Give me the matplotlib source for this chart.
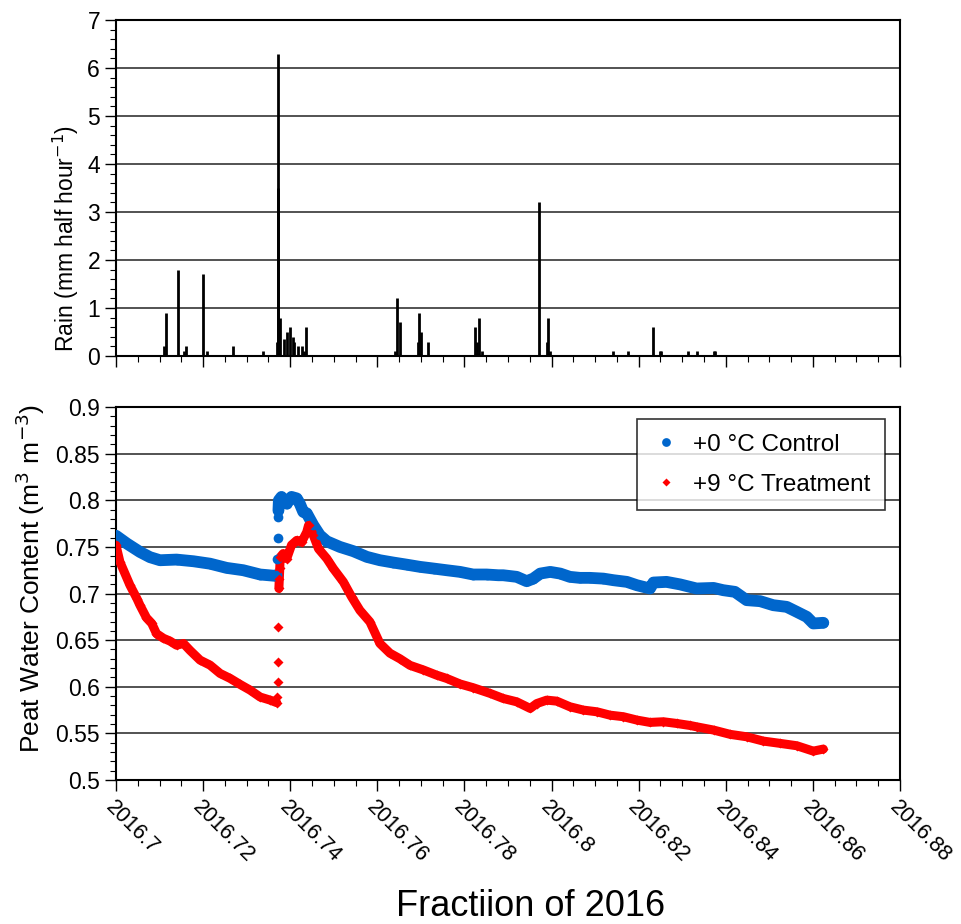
import numpy as np
import matplotlib
matplotlib.use("Agg")
import matplotlib.pyplot as plt
from matplotlib.ticker import MultipleLocator

plt.rcParams['font.family'] = ['Liberation Sans', 'DejaVu Sans']

#----------
# Rain (mm per half hour)
rain_t = [2016.7110, 2016.7114, 2016.7142, 2016.7156, 2016.7161, 2016.7199, 2016.7210,
          2016.7268, 2016.7338, 2016.7369, 2016.7371, 2016.7373, 2016.7377, 2016.7386,
          2016.7392, 2016.7400, 2016.7406, 2016.7409, 2016.7418, 2016.7426, 2016.7432,
          2016.7436, 2016.7641, 2016.7645, 2016.7651, 2016.7693, 2016.7696, 2016.7700,
          2016.7716, 2016.7825, 2016.7829, 2016.7833, 2016.7841, 2016.7971, 2016.7989,
          2016.7992, 2016.7997, 2016.8142, 2016.8176, 2016.8232, 2016.8248, 2016.8251,
          2016.8313, 2016.8333, 2016.8372, 2016.8376]
rain_mm = [0.2, 0.9, 1.8, 0.1, 0.2, 1.7, 0.1,
           0.2, 0.1, 0.3, 3.5, 6.3, 0.8, 0.35,
           0.5, 0.6, 0.4, 0.3, 0.2, 0.2, 0.1,
           0.6, 0.1, 1.2, 0.7, 0.3, 0.9, 0.5,
           0.3, 0.6, 0.3, 0.8, 0.1, 3.2, 0.3,
           0.8, 0.1, 0.1, 0.1, 0.6, 0.1, 0.1,
           0.1, 0.1, 0.1, 0.1]

# +0 C control peat water content
ctrl_t = [2016.7000, 2016.7025, 2016.7055, 2016.7078, 2016.7101, 2016.7139, 2016.7178,
          2016.7216, 2016.7254, 2016.7292, 2016.7331, 2016.7365, 2016.7369, 2016.7370,
          2016.7371, 2016.7372, 2016.7373, 2016.7374, 2016.7380, 2016.7392, 2016.7403,
          2016.7415, 2016.7422, 2016.7430, 2016.7438, 2016.7453, 2016.7468, 2016.7484,
          2016.7514, 2016.7545, 2016.7576, 2016.7606, 2016.7637, 2016.7667, 2016.7698,
          2016.7729, 2016.7759, 2016.7790, 2016.7820, 2016.7851, 2016.7878, 2016.7889,
          2016.7920, 2016.7943, 2016.7958, 2016.7974, 2016.7997, 2016.8020, 2016.8042,
          2016.8065, 2016.8088, 2016.8119, 2016.8142, 2016.8173, 2016.8196, 2016.8226,
          2016.8234, 2016.8264, 2016.8295, 2016.8333, 2016.8372, 2016.8394, 2016.8421,
          2016.8448, 2016.8479, 2016.8509, 2016.8540, 2016.8563, 2016.8586, 2016.8601,
          2016.8624]
ctrl_wc = [0.762, 0.7536, 0.7446, 0.739, 0.7357, 0.7364, 0.7346,
           0.732, 0.7275, 0.725, 0.7204, 0.719, 0.7196, 0.7375,
           0.7596, 0.782, 0.789, 0.800, 0.8036, 0.7964, 0.8036,
           0.802, 0.7964, 0.7875, 0.786, 0.7732, 0.7625, 0.756,
           0.750, 0.7454, 0.7393, 0.7357, 0.7332, 0.731, 0.7286,
           0.7268, 0.725, 0.7232, 0.7204, 0.7204, 0.7196, 0.7196,
           0.7179, 0.7132, 0.716, 0.7214, 0.7232, 0.7214, 0.7179,
           0.7168, 0.7168, 0.716, 0.7143, 0.7125, 0.7089, 0.7054,
           0.7118, 0.7125, 0.7098, 0.7054, 0.706, 0.7036, 0.7018,
           0.6929, 0.6918, 0.6875, 0.6857, 0.6804, 0.675, 0.6679,
           0.6686]

# +9 C treatment peat water content
trt_t = [2016.7000, 2016.7009, 2016.7032, 2016.7048, 2016.7055, 2016.7070, 2016.7082,
         2016.7093, 2016.7109, 2016.7124, 2016.7139, 2016.7155, 2016.7170, 2016.7193,
         2016.7216, 2016.7239, 2016.7262, 2016.7285, 2016.7308, 2016.7331, 2016.7354,
         2016.7369, 2016.7370, 2016.7371, 2016.7372, 2016.7373, 2016.7374, 2016.7375,
         2016.7376, 2016.7377, 2016.7384, 2016.7392, 2016.7403, 2016.7415, 2016.7426,
         2016.7438, 2016.7442, 2016.7453, 2016.7465, 2016.7484, 2016.7499, 2016.7522,
         2016.7541, 2016.7560, 2016.7583, 2016.7606, 2016.7629, 2016.7652, 2016.7675,
         2016.7706, 2016.7736, 2016.7759, 2016.7790, 2016.7820, 2016.7859, 2016.7889,
         2016.7920, 2016.7951, 2016.7966, 2016.7989, 2016.8012, 2016.8042, 2016.8073,
         2016.8104, 2016.8134, 2016.8165, 2016.8196, 2016.8226, 2016.8257, 2016.8287,
         2016.8318, 2016.8333, 2016.8372, 2016.8410, 2016.8448, 2016.8486, 2016.8525,
         2016.8563, 2016.8601, 2016.8624]
trt_wc = [0.7518, 0.734, 0.709, 0.6946, 0.6875, 0.674, 0.668,
          0.657, 0.652, 0.649, 0.6446, 0.6464, 0.639, 0.6286,
          0.6232, 0.6143, 0.609, 0.6025, 0.5964, 0.589, 0.5857,
          0.583, 0.589, 0.605, 0.627, 0.664, 0.7054, 0.716,
          0.727, 0.739, 0.7429, 0.7375, 0.752, 0.757, 0.755,
          0.766, 0.773, 0.7625, 0.748, 0.7375, 0.7268, 0.7125,
          0.6964, 0.682, 0.6696, 0.6464, 0.636, 0.630, 0.623,
          0.618, 0.6125, 0.609, 0.603, 0.599, 0.5929, 0.5875,
          0.5839, 0.5768, 0.582, 0.5857, 0.5846, 0.5786, 0.575,
          0.5732, 0.5696, 0.5679, 0.5643, 0.5618, 0.5625, 0.5607,
          0.5585, 0.5571, 0.5536, 0.549, 0.5464, 0.5418, 0.5393,
          0.5368, 0.531, 0.5332]
#----------

blue = '#0066CC'
red = '#FF0000'

def short(v, p):
    return ('%.2f' % v).rstrip('0').rstrip('.')

fig = plt.figure(figsize=(9.61, 9.24), dpi=100)
ax1 = fig.add_axes([0.1207, 0.6147, 0.8158, 0.3637])
ax2 = fig.add_axes([0.1207, 0.1558, 0.8158, 0.4037])

for ax in (ax1, ax2):
    ax.set_xlim(2016.7, 2016.88)
    ax.xaxis.set_major_locator(MultipleLocator(0.02))
    ax.xaxis.set_minor_locator(MultipleLocator(0.005))
    ax.grid(axis='y', which='major', color='#444444', lw=1.3)
    ax.set_axisbelow(True)
    ax.tick_params(which='major', direction='out', length=8, width=1, labelsize=16.5)
    ax.tick_params(which='minor', direction='out', length=4, width=0.8)
    for s in ax.spines.values():
        s.set_linewidth(1.5)

# rain panel
ax1.vlines(rain_t, 0, rain_mm, color='black', lw=2)
ax1.set_ylim(0, 7)
ax1.yaxis.set_major_locator(MultipleLocator(1))
ax1.yaxis.set_minor_locator(MultipleLocator(0.2))
ax1.tick_params(axis='x', labelbottom=False)
ax1.set_ylabel('Rain (mm half hour$^{-1}$)', fontsize=16.5)
ax1.yaxis.set_label_coords(-0.045, 0.35)

# water content panel
ct = np.array(ctrl_t); cw = np.array(ctrl_wc)
tt = np.array(trt_t); tw = np.array(trt_wc)

# continuous stretches drawn as a thick band, jump points left as dots
for m in (ct <= 2016.7369, ct >= 2016.7373):
    ax2.plot(ct[m], cw[m], color=blue, lw=8.5, solid_capstyle='round', zorder=3)
for m in (tt <= 2016.7369, tt >= 2016.7374):
    ax2.plot(tt[m], tw[m], color=red, lw=6.5, solid_capstyle='round', zorder=3)

ax2.plot(ct, cw, 'o', color=blue, ms=7, mec='none', zorder=3, label='+0 °C Control')
ax2.plot(tt, tw, 'D', color=red, ms=5, mec='none', zorder=4, label='+9 °C Treatment')

ax2.set_ylim(0.5, 0.9)
ax2.yaxis.set_major_locator(MultipleLocator(0.05))
ax2.yaxis.set_minor_locator(MultipleLocator(0.01))
ax2.yaxis.set_major_formatter(plt.FuncFormatter(short))
ax2.xaxis.set_major_formatter(plt.FuncFormatter(short))
ax2.set_ylabel('Peat Water Content (m$^3$ m$^{-3}$)', fontsize=19)
ax2.yaxis.set_label_coords(-0.088, 0.54)
ax2.set_xlabel('Fractiion of 2016', fontsize=26)
ax2.xaxis.set_label_coords(0.529, -0.292)
ax2.tick_params(axis='x', labelsize=15.5, pad=4)
for lab in ax2.get_xticklabels():
    lab.set_rotation(-45)
    lab.set_rotation_mode('anchor')
    lab.set_ha('left')
    lab.set_va('top')

leg = ax2.legend(loc='upper right', bbox_to_anchor=(0.981, 0.968), fontsize=17.5,
                 markerscale=0.9, frameon=True, fancybox=False, borderpad=0.6,
                 labelspacing=0.75, handlelength=1.2, handletextpad=0.5,
                 borderaxespad=0)
leg.get_frame().set_edgecolor('black')
leg.get_frame().set_linewidth(1.2)

fig.savefig('out.png', dpi=100)
